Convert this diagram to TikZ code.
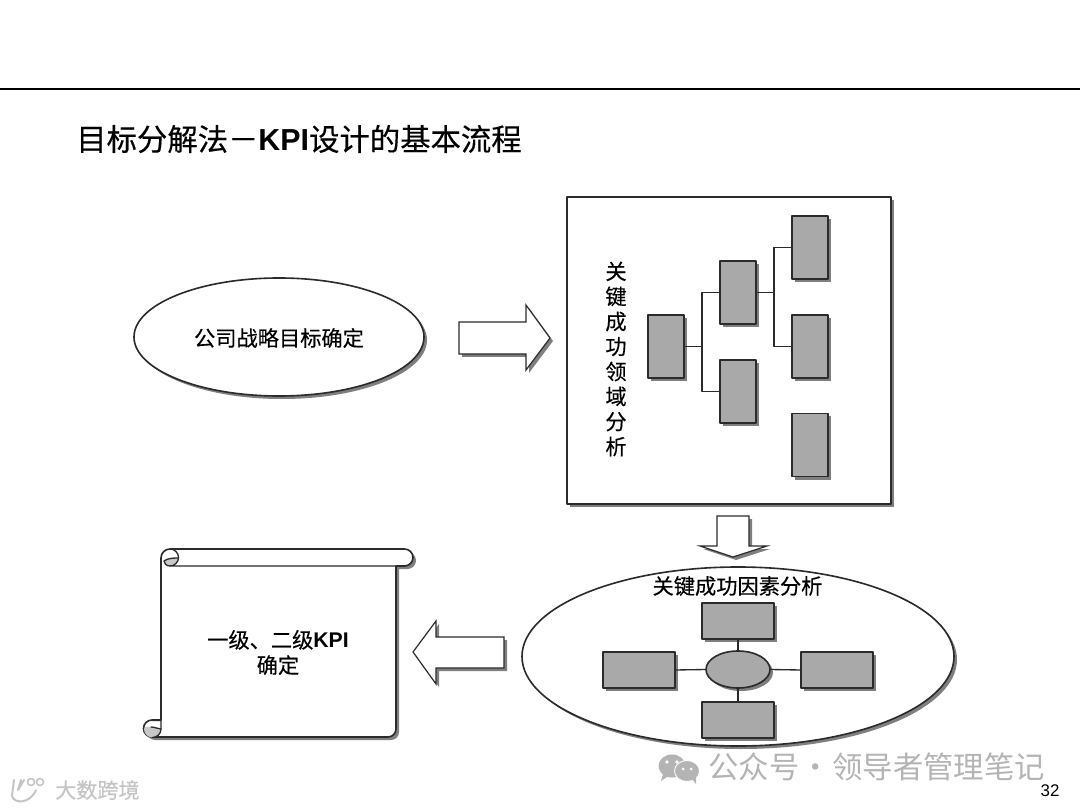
\documentclass[tikz,border=0pt]{standalone}
\usepackage{fontspec}
\setmainfont{Liberation Sans}
\newfontfamily\cjk[FakeBold=0.35]{Noto Sans CJK SC}
\newfontfamily\cjkthin{Noto Sans CJK SC}
\usetikzlibrary{calc, shapes.geometric, shadows}
\definecolor{boxgray}{HTML}{A9A9A9}
\definecolor{inkgray}{HTML}{2B2B2B}
\definecolor{markgray}{HTML}{B4B4B4}
\definecolor{logogray}{HTML}{C4C4C4}
\tikzset{
  shade3/.style={drop shadow={shadow xshift=0.75mm, shadow yshift=-0.75mm, fill=black, opacity=0.5}},
  bigbox/.style={draw=inkgray, fill=white, line width=1.15pt, outer sep=0pt, inner sep=0pt, shade3},
  tallbox/.style={bigbox, fill=boxgray, minimum width=9mm, minimum height=15.75mm},
  widebox/.style={bigbox, fill=boxgray, minimum width=18mm, minimum height=9mm},
  oval/.style={bigbox, ellipse},
  link/.style={draw=inkgray, line width=0.95pt},
  blockarrow/.style={draw=inkgray, fill=white, line width=0.85pt, line join=miter, shade3},
  label/.style={font=\cjk\fontsize{15.1}{18}\selectfont, inner sep=0pt, align=center, text=black},
}
\begin{document}
\begin{tikzpicture}[x=0.25mm, y=-0.25mm, line cap=round, line join=round]
\useasboundingbox (0,0) rectangle (1080,810);

% riga e titolo
\coordinate (RuleL) at (0,89);
\coordinate (RuleR) at (1080,89);
\draw[line width=1.9pt, black] (RuleL) -- (RuleR);
\node[anchor=west, inner sep=0pt] (Title) at (76,139)
  {\fontsize{21.6}{26}\selectfont\cjk 目标分解法－\textbf{\fontspec{Liberation Sans}KPI}设计的基本流程};

% ovale strategia
\node[oval, minimum width=72.5mm, minimum height=29.5mm] (Strategy) at (279,337) {};
\node[label] (StrategyText) at (279,338) {公司战略目标确定};

% freccia a destra
\draw[blockarrow] (459,322) -- (526,322) -- (526,305) -- (550,338) -- (526,370) -- (526,354) -- (459,354) -- cycle;

% riquadro aree
\node[bigbox, minimum width=81mm, minimum height=76.75mm] (Area) at (729,350.5) {};
\node[label, font=\cjk\fontsize{15.1}{17.8}\selectfont] (AreaText) at (616,359)
  {关\\键\\成\\功\\领\\域\\分\\析};
\node[tallbox] (Root) at (666,346.5) {};
\node[tallbox] (BranchA) at (738,292.5) {};
\node[tallbox] (BranchB) at (738,391.5) {};
\node[tallbox] (LeafA) at (810,247.5) {};
\node[tallbox] (LeafB) at (810,346.5) {};
\node[tallbox] (LeafC) at (810,445) {};
\draw[link] (Root.east) -- ++(18,0) |- (BranchA.west);
\draw[link] (Root.east) -- ++(18,0) |- (BranchB.west);
\draw[link] (BranchA.east) -- ++(18,0) |- (LeafA.west);
\draw[link] (BranchA.east) -- ++(18,0) |- (LeafB.west);

% freccia in basso
\draw[blockarrow] (717,516) -- (749,516) -- (749,546) -- (767,546) -- (733,557) -- (700,546) -- (717,546) -- cycle;

% ovale fattori
\node[oval, minimum width=108mm, minimum height=44.75mm] (Factor) at (738,656.5) {};
\node[label, font=\cjk\fontsize{15.1}{18}\selectfont] (FactorText) at (737.5,586) {关键成功因素分析};
\node[oval, fill=boxgray, minimum width=16mm, minimum height=9.25mm] (Hub) at (738,669.5) {};
\node[widebox] (North) at (738,621) {};
\node[widebox] (South) at (738,720) {};
\node[widebox] (West) at (639,670) {};
\node[widebox] (East) at (837,670) {};
\draw[link] (Hub.north) -- (North.south);
\draw[link] (Hub.south) -- (South.north);
\draw[link] (Hub.west) -- (West.east);
\draw[link] (Hub.east) -- (East.west);

% freccia a sinistra
\draw[blockarrow] (413,652) -- (436,621) -- (436,637) -- (504,637) -- (504,668) -- (436,668) -- (436,684) -- cycle;

% pergamena
\draw[bigbox] (170,549) -- (404.5,549) arc[start angle=-90, end angle=90, radius=8.5]
  -- (396,566) -- (396,729) arc[start angle=0, end angle=90, radius=8]
  -- (152,737) arc[start angle=90, end angle=270, radius=8.5]
  -- (161,720) -- (161,558) arc[start angle=180, end angle=270, radius=9] -- cycle;
\fill[boxgray!65] (164,561) .. controls (168,558) and (174,558) .. (178,558) arc[start angle=0, end angle=90, radius=8] .. controls (166,566) and (164,564) .. (164,561) -- cycle;
\draw[link] (170,549) arc[start angle=-90, end angle=90, radius=8.5] -- (396,566);
\draw[link] (170,566) .. controls (166,566) and (164,563) .. (164,561) .. controls (168,558) and (174,558) .. (178.5,558);
\fill[boxgray!65] (144,729) .. controls (148,723) and (156,730) .. (161,729) arc[start angle=0, end angle=180, radius=8.5] -- cycle;
\draw[link] (152,720.5) -- (161,720.5) -- (161,729) arc[start angle=0, end angle=90, radius=8.5];
\draw[link] (151,727) .. controls (155,727) and (158,729) .. (161,729);
\node[label] (ScrollText) at (278,652.5) {一级、二级\textbf{\fontspec{Liberation Sans}KPI}\\确定};

% scritte in basso
\node[inner sep=0pt] (Page) at (1050,791) {\fontsize{12}{14}\selectfont 32};
\node[anchor=west, inner sep=0pt, text=markgray] (Mark) at (708,767)
  {\fontsize{21.6}{26}\selectfont\cjkthin 公众号\makebox[8.25mm][c]{·}领导者管理笔记};
\fill[markgray] (672,766) ellipse[x radius=13.5, y radius=11.5];
\fill[markgray] (663,774) -- (661,781) -- (670,775) -- cycle;
\filldraw[markgray, draw=white, line width=0.6pt] (687,771) ellipse[x radius=12.5, y radius=10.5];
\fill[markgray] (692,779) -- (696,784) -- (696,776) -- cycle;
\fill[white] (667,762) circle (1.8) (677,762) circle (1.8) (683,769) circle (1.5) (691,769) circle (1.5);

\node[anchor=west, inner sep=0pt, text=logogray] (Logo) at (55,790)
  {\fontsize{15}{18}\selectfont\cjk 大数跨境};
\draw[logogray, line width=1.4pt] (14,780) -- (12,796) .. controls (14,804) and (30,804) .. (36,790);
\draw[logogray, line width=1.4pt] (21,780) -- (18,790) -- (24,780);
\draw[logogray, line width=1.1pt] (31,782) circle (3.5) (40,782) circle (3.5);

\end{tikzpicture}
\end{document}
